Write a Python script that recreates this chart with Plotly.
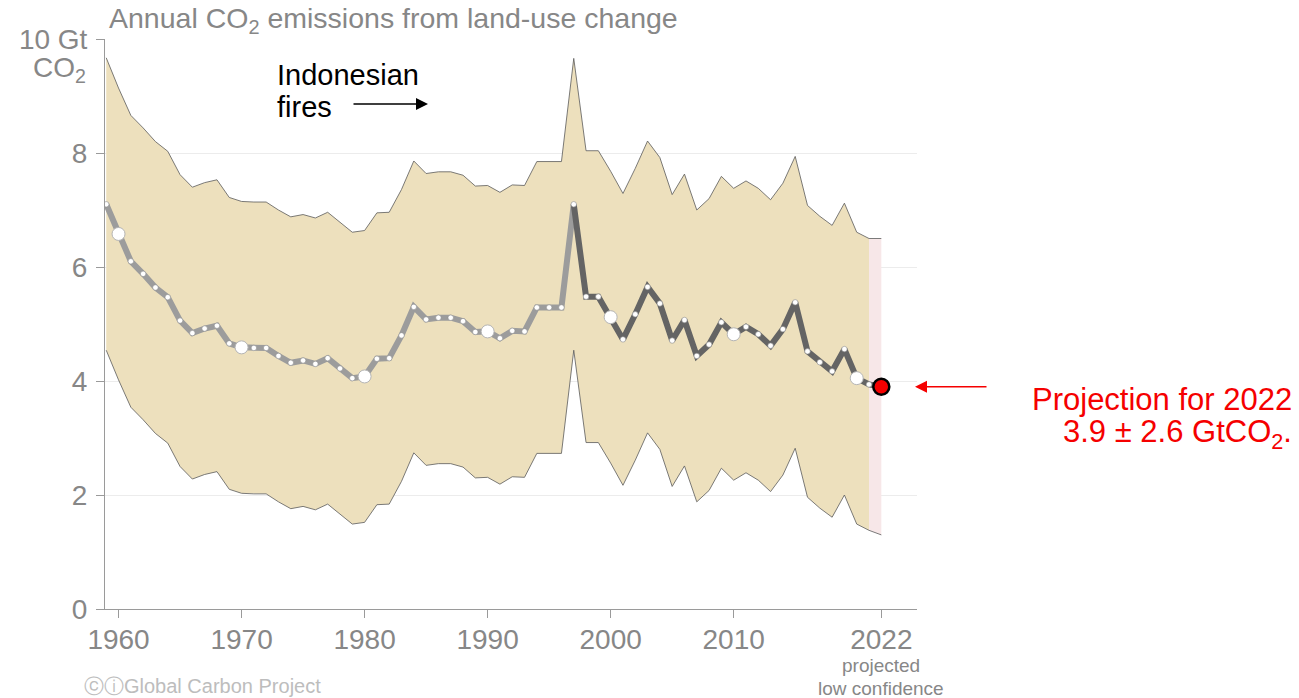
import plotly.graph_objects as go

# Historical land-use change emissions (GtCO2/yr), 1959-2021
years = list(range(1959, 2022))
emissions = [
    7.10, 6.58, 6.10, 5.88, 5.64, 5.47, 5.06, 4.84, 4.92, 4.97,
    4.66, 4.59, 4.58, 4.58, 4.44, 4.32, 4.36, 4.30, 4.40, 4.22,
    4.05, 4.08, 4.39, 4.40, 4.80, 5.30, 5.08, 5.11, 5.11, 5.05,
    4.86, 4.87, 4.75, 4.88, 4.87, 5.29, 5.29, 5.29, 7.10, 5.48,
    5.48, 5.12, 4.73, 5.17, 5.65, 5.36, 4.71, 5.07, 4.44, 4.64,
    5.03, 4.82, 4.95, 4.82, 4.62, 4.91, 5.38, 4.52, 4.33, 4.17,
    4.56, 4.05, 3.94,
]
upper = [
    9.67, 9.14, 8.66, 8.44, 8.20, 8.03, 7.62, 7.40, 7.48, 7.53,
    7.22, 7.15, 7.14, 7.14, 7.00, 6.88, 6.92, 6.86, 6.96, 6.78,
    6.61, 6.64, 6.95, 6.96, 7.36, 7.86, 7.64, 7.67, 7.67, 7.61,
    7.42, 7.43, 7.31, 7.44, 7.43, 7.85, 7.85, 7.85, 9.66, 8.04,
    8.04, 7.68, 7.29, 7.73, 8.21, 7.92, 7.27, 7.63, 7.00, 7.20,
    7.59, 7.38, 7.51, 7.38, 7.18, 7.47, 7.94, 7.08, 6.89, 6.73,
    7.12, 6.61, 6.50,
]
lower = [
    4.54, 4.02, 3.54, 3.32, 3.08, 2.91, 2.50, 2.28, 2.36, 2.41,
    2.10, 2.03, 2.02, 2.02, 1.88, 1.76, 1.80, 1.74, 1.84, 1.66,
    1.49, 1.52, 1.83, 1.84, 2.24, 2.74, 2.52, 2.55, 2.55, 2.49,
    2.30, 2.31, 2.19, 2.32, 2.31, 2.73, 2.73, 2.73, 4.54, 2.92,
    2.92, 2.56, 2.17, 2.61, 3.09, 2.80, 2.15, 2.51, 1.88, 2.08,
    2.47, 2.26, 2.39, 2.26, 2.06, 2.35, 2.82, 1.96, 1.77, 1.61,
    2.00, 1.49, 1.38,
]

# 2022 projection
proj_year = 2022
proj_value = 3.9
proj_unc = 2.6

split_year = 1997  # light grey line before, dark grey after
x_tickvals = [1960, 1970, 1980, 1990, 2000, 2010, 2022]
x_ticktext = ["1960", "1970", "1980", "1990", "2000", "2010", "2022"]
y_tickvals = [0, 2, 4, 6, 8, 10]
y_ticktext = ["0", "2", "4", "6", "8", "10 Gt"]

FONT = "Liberation Sans, Arial, Helvetica, sans-serif"
GREY_TXT = "#878787"
TAN = "#ede0bd"
PINK = "#f7e7e8"
LIGHT_LINE = "#9c9c9c"
DARK_LINE = "#646464"

fig = go.Figure()

# uncertainty band (historical part)
fig.add_trace(go.Scatter(
    x=years + years[::-1], y=upper + lower[::-1],
    fill="toself", fillcolor=TAN, line=dict(width=0),
    mode="lines", hoverinfo="skip", showlegend=False))

# uncertainty band (projection segment)
px_ = [years[-1], proj_year, proj_year, years[-1]]
py_ = [upper[-1], proj_value + proj_unc, proj_value - proj_unc, lower[-1]]
fig.add_trace(go.Scatter(
    x=px_, y=py_, fill="toself", fillcolor=PINK, line=dict(width=0),
    mode="lines", hoverinfo="skip", showlegend=False))

# band outlines
all_years = years + [proj_year]
for edge in (upper + [proj_value + proj_unc], lower + [proj_value - proj_unc]):
    fig.add_trace(go.Scatter(
        x=all_years, y=edge, mode="lines",
        line=dict(color="#5a5a5a", width=0.8),
        hoverinfo="skip", showlegend=False))

# central estimate: two shades
i_split = years.index(split_year)
fig.add_trace(go.Scatter(
    x=years[:i_split + 1], y=emissions[:i_split + 1], mode="lines",
    line=dict(color=LIGHT_LINE, width=6), showlegend=False))
fig.add_trace(go.Scatter(
    x=years[i_split:] + [proj_year], y=emissions[i_split:] + [proj_value],
    mode="lines", line=dict(color=DARK_LINE, width=6), showlegend=False))

# small yearly dots
fig.add_trace(go.Scatter(
    x=years, y=emissions, mode="markers",
    marker=dict(size=5.5, color="white", line=dict(color="#8a8a8a", width=0.6)),
    showlegend=False))

# large decade markers
dec_x = [y for y in years if y % 10 == 0]
dec_y = [emissions[years.index(y)] for y in dec_x]
fig.add_trace(go.Scatter(
    x=dec_x, y=dec_y, mode="markers",
    marker=dict(size=13, color="white", line=dict(color="#b5b5b5", width=1)),
    showlegend=False))

# projection point
fig.add_trace(go.Scatter(
    x=[proj_year], y=[proj_value], mode="markers",
    marker=dict(size=16, color="#f50000", line=dict(color="black", width=2.5)),
    showlegend=False))

W, H = 1299, 698
ML, MR, MT, MB = 105, 382, 39, 89
PW = W - ML - MR
PH = H - MT - MB


def px_x(px):
    return (px - ML) / PW


def px_y(py):
    return (H - MB - py) / PH


annotations = [
    dict(text="Annual CO<sub>2</sub> emissions from land-use change",
         xref="paper", yref="paper", x=px_x(107), y=px_y(20),
         xanchor="left", yanchor="middle", showarrow=False,
         font=dict(size=28.5, color=GREY_TXT)),
    dict(text="CO<sub>2</sub>", xref="paper", yref="paper",
         x=px_x(88), y=px_y(70), xanchor="right", yanchor="middle",
         showarrow=False, font=dict(size=28, color=GREY_TXT)),
    dict(text="Indonesian", xref="paper", yref="paper",
         x=px_x(275), y=px_y(75), xanchor="left", yanchor="middle",
         showarrow=False, font=dict(size=29, color="black")),
    dict(text="fires", xref="paper", yref="paper",
         x=px_x(275), y=px_y(107), xanchor="left", yanchor="middle",
         showarrow=False, font=dict(size=29, color="black")),
    dict(text="", xref="paper", yref="paper", x=px_x(428), y=px_y(104),
         ax=-76, ay=0, showarrow=True, arrowhead=2, arrowsize=1.6,
         arrowwidth=1.5, arrowcolor="black"),
    dict(text="", xref="paper", yref="y", x=px_x(915), y=proj_value,
         ax=73, ay=0, showarrow=True, arrowhead=2, arrowsize=1.6,
         arrowwidth=1.5, arrowcolor="#f50000"),
    dict(text="Projection for 2022", xref="paper", yref="paper",
         x=px_x(1294), y=px_y(399), xanchor="right", yanchor="middle",
         showarrow=False, font=dict(size=31, color="#f50000")),
    dict(text=f"{proj_value} ± {proj_unc} GtCO<sub>2</sub>.", xref="paper", yref="paper",
         x=px_x(1294), y=px_y(434), xanchor="right", yanchor="middle",
         showarrow=False, font=dict(size=31, color="#f50000")),
    dict(text="projected", xref="x", yref="paper", x=proj_year, y=px_y(665),
         xanchor="center", yanchor="middle", showarrow=False,
         font=dict(size=19, color=GREY_TXT)),
    dict(text="low confidence", xref="x", yref="paper", x=proj_year, y=px_y(688),
         xanchor="center", yanchor="middle", showarrow=False,
         font=dict(size=19, color=GREY_TXT)),
    dict(text="ⓒⓘGlobal Carbon Project", xref="paper", yref="paper",
         x=px_x(82), y=px_y(686), xanchor="left", yanchor="middle",
         showarrow=False, font=dict(size=20, color="#bdbdbd")),
]

fig.update_layout(
    width=W, height=H, autosize=False,
    margin=dict(l=ML, r=MR, t=MT, b=MB, pad=0),
    paper_bgcolor="white", plot_bgcolor="white",
    font=dict(family=FONT, color=GREY_TXT),
    showlegend=False,
    annotations=annotations,
    xaxis=dict(
        range=[1958.9, 2024.9], tickvals=x_tickvals, ticktext=x_ticktext,
        ticks="outside", ticklen=8, tickcolor="#9a9a9a", tickwidth=1,
        ticklabelstandoff=-3,
        showgrid=False, zeroline=False, showline=True, linecolor="#9a9a9a",
        linewidth=1, tickfont=dict(size=28, color=GREY_TXT),
    ),
    yaxis=dict(
        range=[0, 10], tickvals=y_tickvals, ticktext=y_ticktext,
        ticks="outside", ticklen=8, tickcolor="#9a9a9a", tickwidth=1,
        ticklabelstandoff=3,
        showgrid=True, gridcolor="#ececec", gridwidth=1,
        zeroline=False, showline=True, linecolor="#9a9a9a", linewidth=1,
        tickfont=dict(size=28, color=GREY_TXT),
    ),
)

fig.write_html("out.html")
